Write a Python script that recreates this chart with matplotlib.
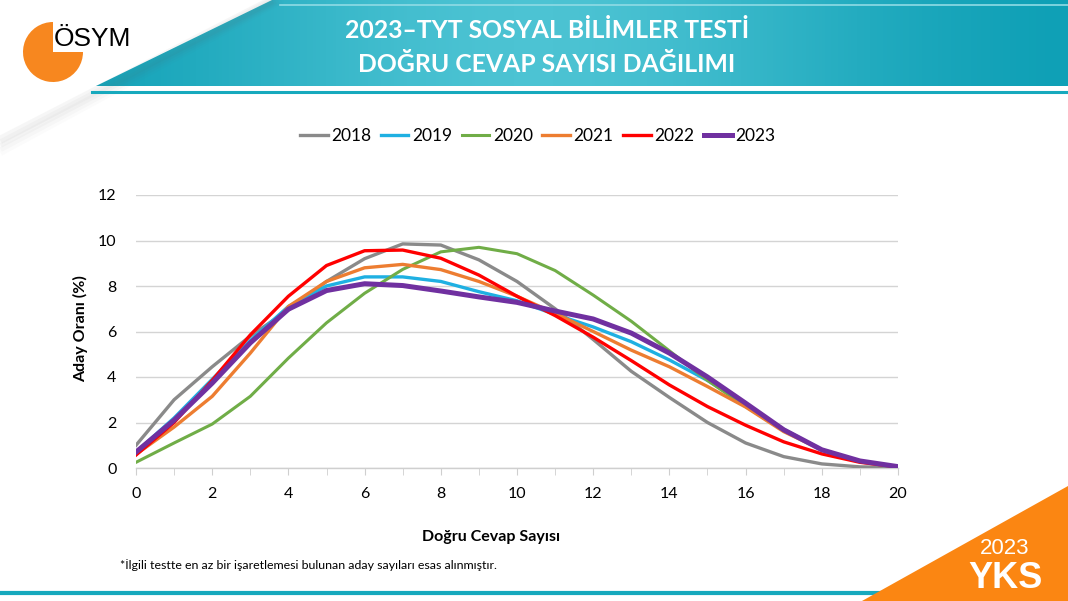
import numpy as np
import matplotlib
matplotlib.use("Agg")
import matplotlib.pyplot as plt
from matplotlib.patches import Polygon, Wedge
from matplotlib.colors import LinearSegmentedColormap

plt.rcParams['font.family'] = ['Lato', 'DejaVu Sans']

# data
dogru = list(range(0, 21))
years = ['2018', '2019', '2020', '2021', '2022', '2023']
y2018 = [1.0, 3.0, 4.45, 5.8, 6.95, 8.2, 9.2, 9.85, 9.8, 9.15, 8.2, 7.0, 5.65, 4.25, 3.1, 2.0, 1.1, 0.5, 0.18, 0.05, 0.02]
y2019 = [0.7, 2.2, 3.9, 5.6, 7.1, 8.0, 8.4, 8.4, 8.2, 7.75, 7.35, 6.75, 6.2, 5.55, 4.75, 3.85, 2.8, 1.7, 0.8, 0.3, 0.05]
y2020 = [0.25, 1.1, 1.93, 3.15, 4.83, 6.38, 7.68, 8.73, 9.5, 9.7, 9.42, 8.68, 7.6, 6.45, 5.15, 3.85, 2.7, 1.65, 0.8, 0.3, 0.05]
y2021 = [0.6, 1.8, 3.15, 5.05, 7.1, 8.2, 8.8, 8.95, 8.72, 8.2, 7.55, 6.8, 6.0, 5.18, 4.45, 3.58, 2.68, 1.6, 0.8, 0.3, 0.05]
y2022 = [0.57, 2.0, 3.85, 5.85, 7.55, 8.9, 9.55, 9.58, 9.22, 8.48, 7.55, 6.7, 5.75, 4.72, 3.65, 2.7, 1.88, 1.15, 0.62, 0.25, 0.05]
y2023 = [0.7, 2.1, 3.73, 5.5, 6.98, 7.8, 8.1, 8.02, 7.78, 7.52, 7.28, 6.9, 6.55, 5.93, 5.05, 4.0, 2.85, 1.68, 0.8, 0.31, 0.06]
series = [y2018, y2019, y2020, y2021, y2022, y2023]
colors = ['#8a8a8a', '#1fb0e2', '#70ad47', '#ed7d31', '#ff0000', '#7030a0']
widths = [2.4, 2.4, 2.2, 2.4, 2.4, 3.6]

W, H = 1068, 601
fig = plt.figure(figsize=(W / 100, H / 100), dpi=100)
fig.patch.set_facecolor('white')

# background decoration axes (pixel coordinates, y down)
bg = fig.add_axes([0, 0, 1, 1], zorder=0)
bg.set_xlim(0, W)
bg.set_ylim(H, 0)
bg.axis('off')

# header band with gradient
band = Polygon([(272, 0), (W, 0), (W, 86), (96, 86)], closed=True, facecolor='none', edgecolor='none')
bg.add_patch(band)
gx = np.linspace(0, 1, 300)
grad = np.exp(-((gx - 0.45) / 0.35) ** 2)[None, :]
cm = LinearSegmentedColormap.from_list('teal', ['#0fa0b6', '#4cc3d3'])
im = bg.imshow(np.repeat(grad, 10, axis=0), extent=(96, W, 86, 0), cmap=cm, aspect='auto', zorder=1)
im.set_clip_path(band)
bg.plot([280, W], [5, 5], color='#8fdbe5', lw=1.2, zorder=2)
bg.plot([92, W], [92, 92], color='#17a9bd', lw=2.2, zorder=2)

# shadow of the white triangle
for i, a in enumerate([0.05, 0.04, 0.03, 0.02]):
    bg.plot([0, 272 + i * 3], [140 + i * 4, 0], color='#606060', alpha=a, lw=6, zorder=1,
            solid_capstyle='butt')

bg.text(547, 30, '2023–TYT SOSYAL BİLİMLER TESTİ', color='white', fontsize=17.8,
        fontweight='bold', ha='center', va='center', zorder=3)
bg.text(547, 65, 'DOĞRU CEVAP SAYISI DAĞILIMI', color='white', fontsize=17.8,
        fontweight='bold', ha='center', va='center', zorder=3)

# logo
bg.add_patch(Wedge((53, 52), 30, 0, 270, facecolor='#f7871f', edgecolor='none', zorder=3))
bg.text(54, 39, 'ÖSYM', fontsize=19, color='black', ha='left', va='center',
        family=['Liberation Sans', 'DejaVu Sans'], zorder=4)

# bottom decorations
bg.plot([0, 880], [593, 593], color='#17a9bd', lw=3, zorder=1)
bg.add_patch(Polygon([(862, H), (W, H), (W, 486)], closed=True, facecolor='#fb8612',
                     edgecolor='none', zorder=2))
bg.text(1005, 548, '2023', color='white', fontsize=16, ha='center', va='center',
        family=['Liberation Sans', 'DejaVu Sans'], zorder=3)
bg.text(1005, 578, 'YKS', color='white', fontsize=26, fontweight='bold', ha='center', va='center',
        family=['Liberation Sans', 'DejaVu Sans'], zorder=3)

bg.text(120, 565, '*İlgili testte en az bir işaretlemesi bulunan aday sayıları esas alınmıştır.',
        fontsize=8.9, color='black', ha='left', va='center', zorder=3)
bg.text(491, 537, 'Doğru Cevap Sayısı', fontsize=11.5, fontweight='bold',
        ha='center', va='center', zorder=3)
bg.text(81, 329, 'Aday Oranı (%)', fontsize=11.5, fontweight='bold', rotation=90,
        ha='center', va='center', zorder=3)

# chart
ax = fig.add_axes([136 / W, 1 - 468 / H, (898 - 136) / W, (468 - 195) / H], zorder=2)
ax.patch.set_alpha(0)
for s, c, lw, lab in zip(series, colors, widths, years):
    ax.plot(dogru, s, color=c, lw=lw, label=lab, solid_joinstyle='round', zorder=3)

ax.set_xlim(0, 20)
ax.set_ylim(0, 12)
ax.set_xticks(range(0, 21, 2))
ax.set_xticks(range(0, 21), minor=True)
ax.set_yticks(range(0, 13, 2))
ax.grid(axis='y', color='#d4d4d4', lw=1)
ax.set_axisbelow(True)
for sp in ['top', 'right', 'left']:
    ax.spines[sp].set_visible(False)
ax.spines['bottom'].set_color('#cfcfcf')
ax.spines['bottom'].set_linewidth(1)
ax.tick_params(axis='x', which='both', direction='out', length=5, color='#cfcfcf', labelsize=11.5, pad=9)
ax.tick_params(axis='y', length=0, labelsize=11.5, pad=14)

leg = ax.legend(loc='center', bbox_to_anchor=(0.527, 1.217), ncol=6, frameon=False,
                fontsize=12.5, handlelength=1.6, handletextpad=0.2, columnspacing=0.55)

fig.savefig('out.png', dpi=100)
